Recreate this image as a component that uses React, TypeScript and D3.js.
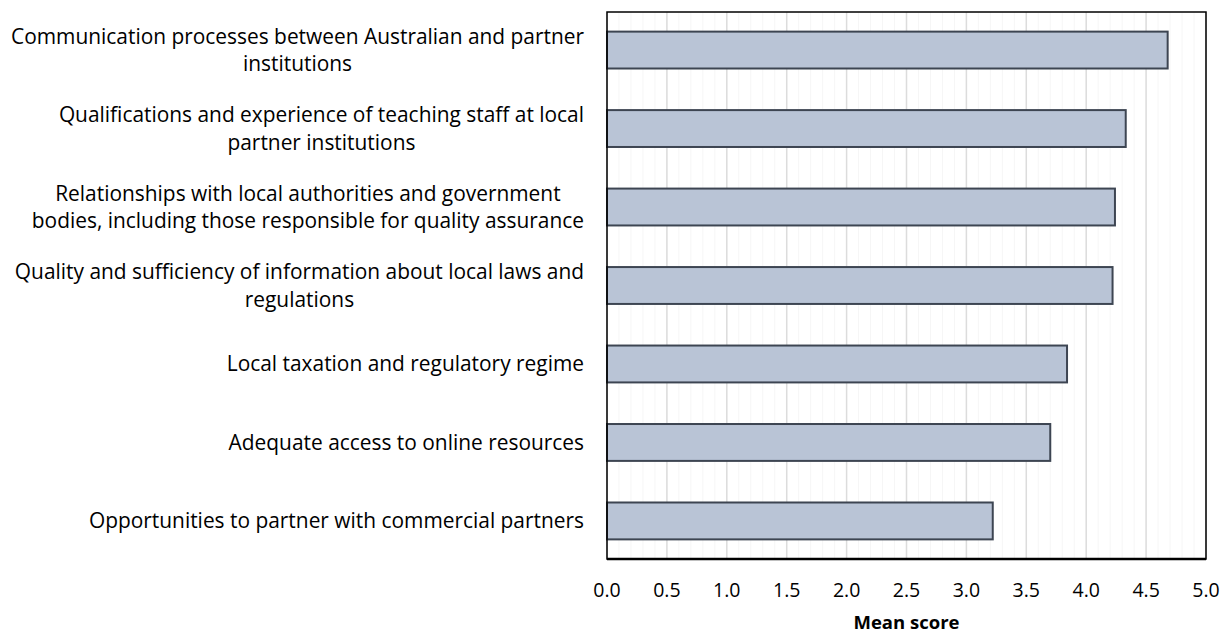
import React, { useEffect, useRef } from 'react';
import * as d3 from 'd3';

// categories, top to bottom (already split into the lines shown on the chart)
const categories: string[][] = [
    ['Communication processes between Australian and partner', 'institutions'],
    ['Qualifications and experience of teaching staff at local', 'partner institutions'],
    ['Relationships with local authorities and government', 'bodies, including those responsible for quality assurance'],
    ['Quality and sufficiency of information about local laws and', 'regulations'],
    ['Local taxation and regulatory regime'],
    ['Adequate access to online resources'],
    ['Opportunities to partner with commercial partners'],
];

const meanScores: number[] = [4.68, 4.33, 4.24, 4.22, 3.84, 3.70, 3.22];

const xTicks: number[] = [0, 0.5, 1, 1.5, 2, 2.5, 3, 3.5, 4, 4.5, 5];
const xMinorTicks: number[] = d3.range(0, 51).map(d => d / 10);

const axisTitle = 'Mean score';

export default function App() {
    const ref = useRef<SVGSVGElement>(null);

    useEffect(() => {
        const totalWidth = 1232;
        const totalHeight = 636;
        const margin = { top: 12, right: 26, bottom: 77, left: 607 };
        const width = totalWidth - margin.left - margin.right;
        const height = totalHeight - margin.top - margin.bottom;
        const font = "'Open Sans', Lato, sans-serif";

        const root = d3.select(ref.current);
        root.selectAll('*').remove();

        const svg = root.append('g')
            .attr('transform', `translate(${margin.left},${margin.top})`);

        const xScale = d3.scaleLinear().domain([0, 5]).range([0, width]);
        const yScale = d3.scaleBand<number>()
            .domain(d3.range(categories.length))
            .range([0, height])
            .paddingInner(0.53)
            .paddingOuter(0.25);

        // faint minor grid
        svg.append('g').selectAll('line')
            .data(xMinorTicks)
            .join('line')
            .attr('x1', d => xScale(d)).attr('x2', d => xScale(d))
            .attr('y1', 0).attr('y2', height)
            .attr('stroke', '#f6f6f6')
            .attr('stroke-width', 1);

        // major grid
        svg.append('g').selectAll('line')
            .data(xTicks)
            .join('line')
            .attr('x1', d => xScale(d)).attr('x2', d => xScale(d))
            .attr('y1', 0).attr('y2', height)
            .attr('stroke', '#dcdcdc')
            .attr('stroke-width', 1.5);

        // bars
        svg.append('g').selectAll('rect')
            .data(meanScores)
            .join('rect')
            .attr('x', xScale(0))
            .attr('y', (d, i) => yScale(i)!)
            .attr('width', d => xScale(d) - xScale(0))
            .attr('height', yScale.bandwidth())
            .attr('fill', '#b9c4d6')
            .attr('stroke', '#3d4552')
            .attr('stroke-width', 2);

        // plot frame
        svg.append('rect')
            .attr('x', 0).attr('y', 0)
            .attr('width', width).attr('height', height)
            .attr('fill', 'none')
            .attr('stroke', '#000')
            .attr('stroke-width', 1.5);

        svg.append('line')
            .attr('x1', 0).attr('x2', width)
            .attr('y1', height).attr('y2', height)
            .attr('stroke', '#000')
            .attr('stroke-width', 2.5);

        // x tick labels
        svg.append('g').selectAll('text')
            .data(xTicks)
            .join('text')
            .attr('x', d => xScale(d))
            .attr('y', height + 38)
            .attr('text-anchor', 'middle')
            .style('font-family', font)
            .style('font-size', '19.5px')
            .style('fill', '#000')
            .text(d => d3.format('.1f')(d));

        svg.append('text')
            .attr('x', width / 2)
            .attr('y', height + 70)
            .attr('text-anchor', 'middle')
            .style('font-family', font)
            .style('font-size', '18.5px')
            .style('font-weight', 'bold')
            .style('fill', '#000')
            .text(axisTitle);

        // category labels, each line centred on the right edge block
        const lineHeight = 27.5;
        const labels = svg.append('g').selectAll('g')
            .data(categories)
            .join('g')
            .attr('transform', (d, i) => `translate(-23,${yScale(i)! + yScale.bandwidth() / 2})`);

        labels.each(function (lines) {
            const g = d3.select(this);
            const texts = g.selectAll('text')
                .data(lines)
                .join('text')
                .attr('y', (d, j) => (j - (lines.length - 1) / 2) * lineHeight)
                .attr('dy', '0.35em')
                .style('font-family', font)
                .style('font-size', '20.9px')
                .style('fill', '#000')
                .text(d => d);
            // wrapped lines are centred against the widest one, block right aligned
            const widths: number[] = [];
            texts.each(function () { widths.push((this as SVGTextElement).getComputedTextLength()); });
            const maxW = d3.max(widths) || 0;
            texts.attr('text-anchor', 'middle').attr('x', -maxW / 2);
        });
    }, []);

    return (
        <div style={{ position: 'absolute', left: 0, top: 0 }}>
            <svg ref={ref} width={1232} height={636} style={{ display: 'block', background: '#fff' }} />
        </div>
    );
}
